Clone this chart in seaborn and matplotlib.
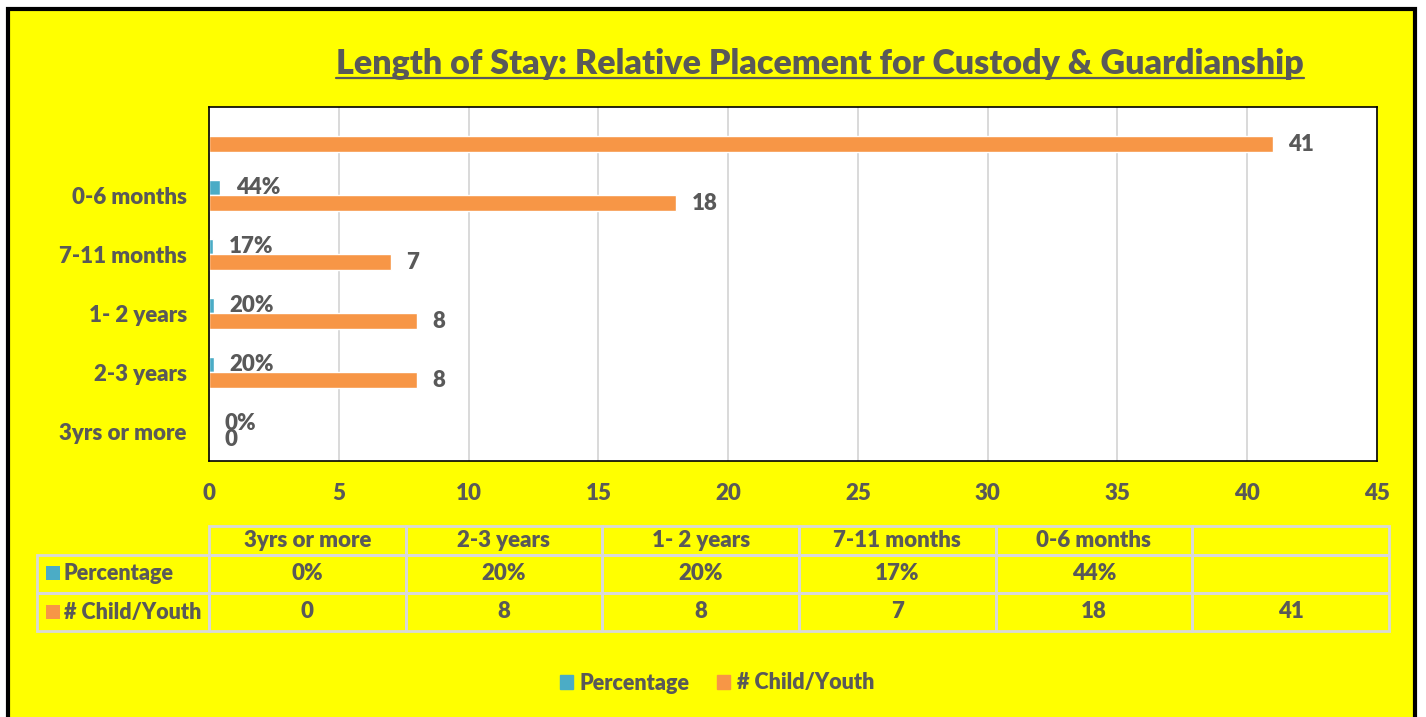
import numpy as np
import pandas as pd
import matplotlib
matplotlib.use('Agg')
import matplotlib.pyplot as plt
from matplotlib.patches import Rectangle, Patch
from matplotlib.lines import Line2D
import seaborn as sns

# data, top to bottom as drawn
categories = ['', '0-6 months', '7-11 months', '1- 2 years', '2-3 years', '3yrs or more']
percentage = [np.nan, 0.44, 0.17, 0.20, 0.20, 0.0]
child_youth = [41, 18, 7, 8, 8, 0]
series_names = ['Percentage', '# Child/Youth']
x_ticks = [0, 5, 10, 15, 20, 25, 30, 35, 40, 45]
title = 'Length of Stay: Relative Placement for Custody & Guardianship'

BLUE = '#4BACC6'
ORANGE = '#F79646'
GREY = '#595959'
YELLOW = '#FFFF00'
LINE = '#D9D9D9'
W, H = 1426, 717
FS = 16
WT = 'heavy'

sns.set_style('white')
plt.rcParams['font.family'] = ['Lato', 'DejaVu Sans']

df = pd.DataFrame({
    'category': categories * 2,
    'series': [series_names[0]] * len(categories) + [series_names[1]] * len(categories),
    'value': percentage + child_youth,
})

fig = plt.figure(figsize=(W / 100, H / 100), dpi=100, facecolor='white')
# yellow chart area with black frame
fig.patches.append(Rectangle((8 / W, -0.1), (1414.5 - 8) / W, 1.1 - 8.5 / H,
                             transform=fig.transFigure, facecolor=YELLOW,
                             edgecolor='black', linewidth=3, zorder=-5))

ax = fig.add_axes([209 / W, 1 - 461 / H, 1168 / W, 354 / H])
sns.barplot(data=df, x='value', y='category', hue='series', order=categories,
            hue_order=series_names, palette=[BLUE, ORANGE], width=0.54,
            orient='h', legend=False, ax=ax, saturation=1, errorbar=None)
ax.set_facecolor('white')
ax.set_xlim(0, 45)
ax.set_xticks(x_ticks)
ax.set_xlabel('')
ax.set_ylabel('')
ax.grid(axis='x', color=LINE, linewidth=1.4)
ax.grid(axis='y', visible=False)
ax.set_axisbelow(True)
for s in ax.spines.values():
    s.set_visible(True)
    s.set_color('black')
    s.set_linewidth(1.2)
ax.tick_params(axis='x', length=0, labelsize=FS, labelcolor=GREY, pad=16)
ax.tick_params(axis='y', length=0, labelsize=FS, labelcolor=GREY, pad=16)
for lbl in ax.get_xticklabels() + ax.get_yticklabels():
    lbl.set_fontweight(WT)

# value labels
pct_bars, cnt_bars = ax.containers[0], ax.containers[1]
ax.bar_label(pct_bars, labels=['' if np.isnan(v) else f'{v:.0%}' for v in pct_bars.datavalues],
             padding=11, fontsize=FS, fontweight=WT, color=GREY)
ax.bar_label(cnt_bars, labels=['' if np.isnan(v) else f'{v:.0f}' for v in cnt_bars.datavalues],
             padding=11, fontsize=FS, fontweight=WT, color=GREY)

# data table under the chart
table_cols = categories[::-1]
pct_row = ['' if np.isnan(p) else f'{p:.0%}' for p in percentage[::-1]]
cnt_row = [str(c) for c in child_youth[::-1]]
cell_text = [[''] + table_cols, [series_names[0]] + pct_row, [series_names[1]] + cnt_row]
tab = ax.table(cellText=cell_text, cellLoc='center',
               bbox=[(37 - 209) / 1168, (461 - 631) / 354, (1389 - 37) / 1168, (631 - 526) / 354])
tab.auto_set_font_size(False)
tab.set_fontsize(FS)
for (r, c), cell in tab.get_celld().items():
    cell.set_width(172 if c == 0 else 196.7)
    cell.set_height(29 if r == 0 else 38)
    cell.set_facecolor('none')
    cell.set_edgecolor(LINE)
    cell.set_linewidth(2)
    txt = cell.get_text()
    txt.set_fontweight(WT)
    txt.set_color(GREY)
    if c == 0:
        txt.set_ha('left')
        txt.set_fontsize(15.5)
        cell.PAD = 27 / 172
tab[0, 0].set_edgecolor('none')

# colour keys in the table row labels
for y0, col in [(566, BLUE), (605, ORANGE)]:
    fig.patches.append(Rectangle((46 / W, 1 - (y0 + 14) / H), 14 / W, 14 / H,
                                 transform=fig.transFigure, facecolor=col,
                                 edgecolor='none', zorder=5))

# legend
handles = [Patch(color=BLUE, label=series_names[0]), Patch(color=ORANGE, label=series_names[1])]
fig.legend(handles=handles, loc='center', bbox_to_anchor=(717 / W, 1 - 683 / H), ncol=2,
           frameon=False, prop={'weight': WT, 'size': 15.5}, labelcolor=GREY,
           handlelength=0.6, handleheight=0.6, handletextpad=0.3, columnspacing=1.3)

# title with underline
t = fig.text(820 / W, 1 - 74 / H, title, ha='center', va='baseline',
             fontsize=24.5, fontweight=WT, color=GREY)
fig.canvas.draw()
bb = t.get_window_extent()
fig.add_artist(Line2D([bb.x0 / W, bb.x1 / W], [1 - 78 / H, 1 - 78 / H],
                      transform=fig.transFigure, color=GREY, linewidth=1.6))

fig.savefig('out.png', dpi=100, facecolor=fig.get_facecolor())
